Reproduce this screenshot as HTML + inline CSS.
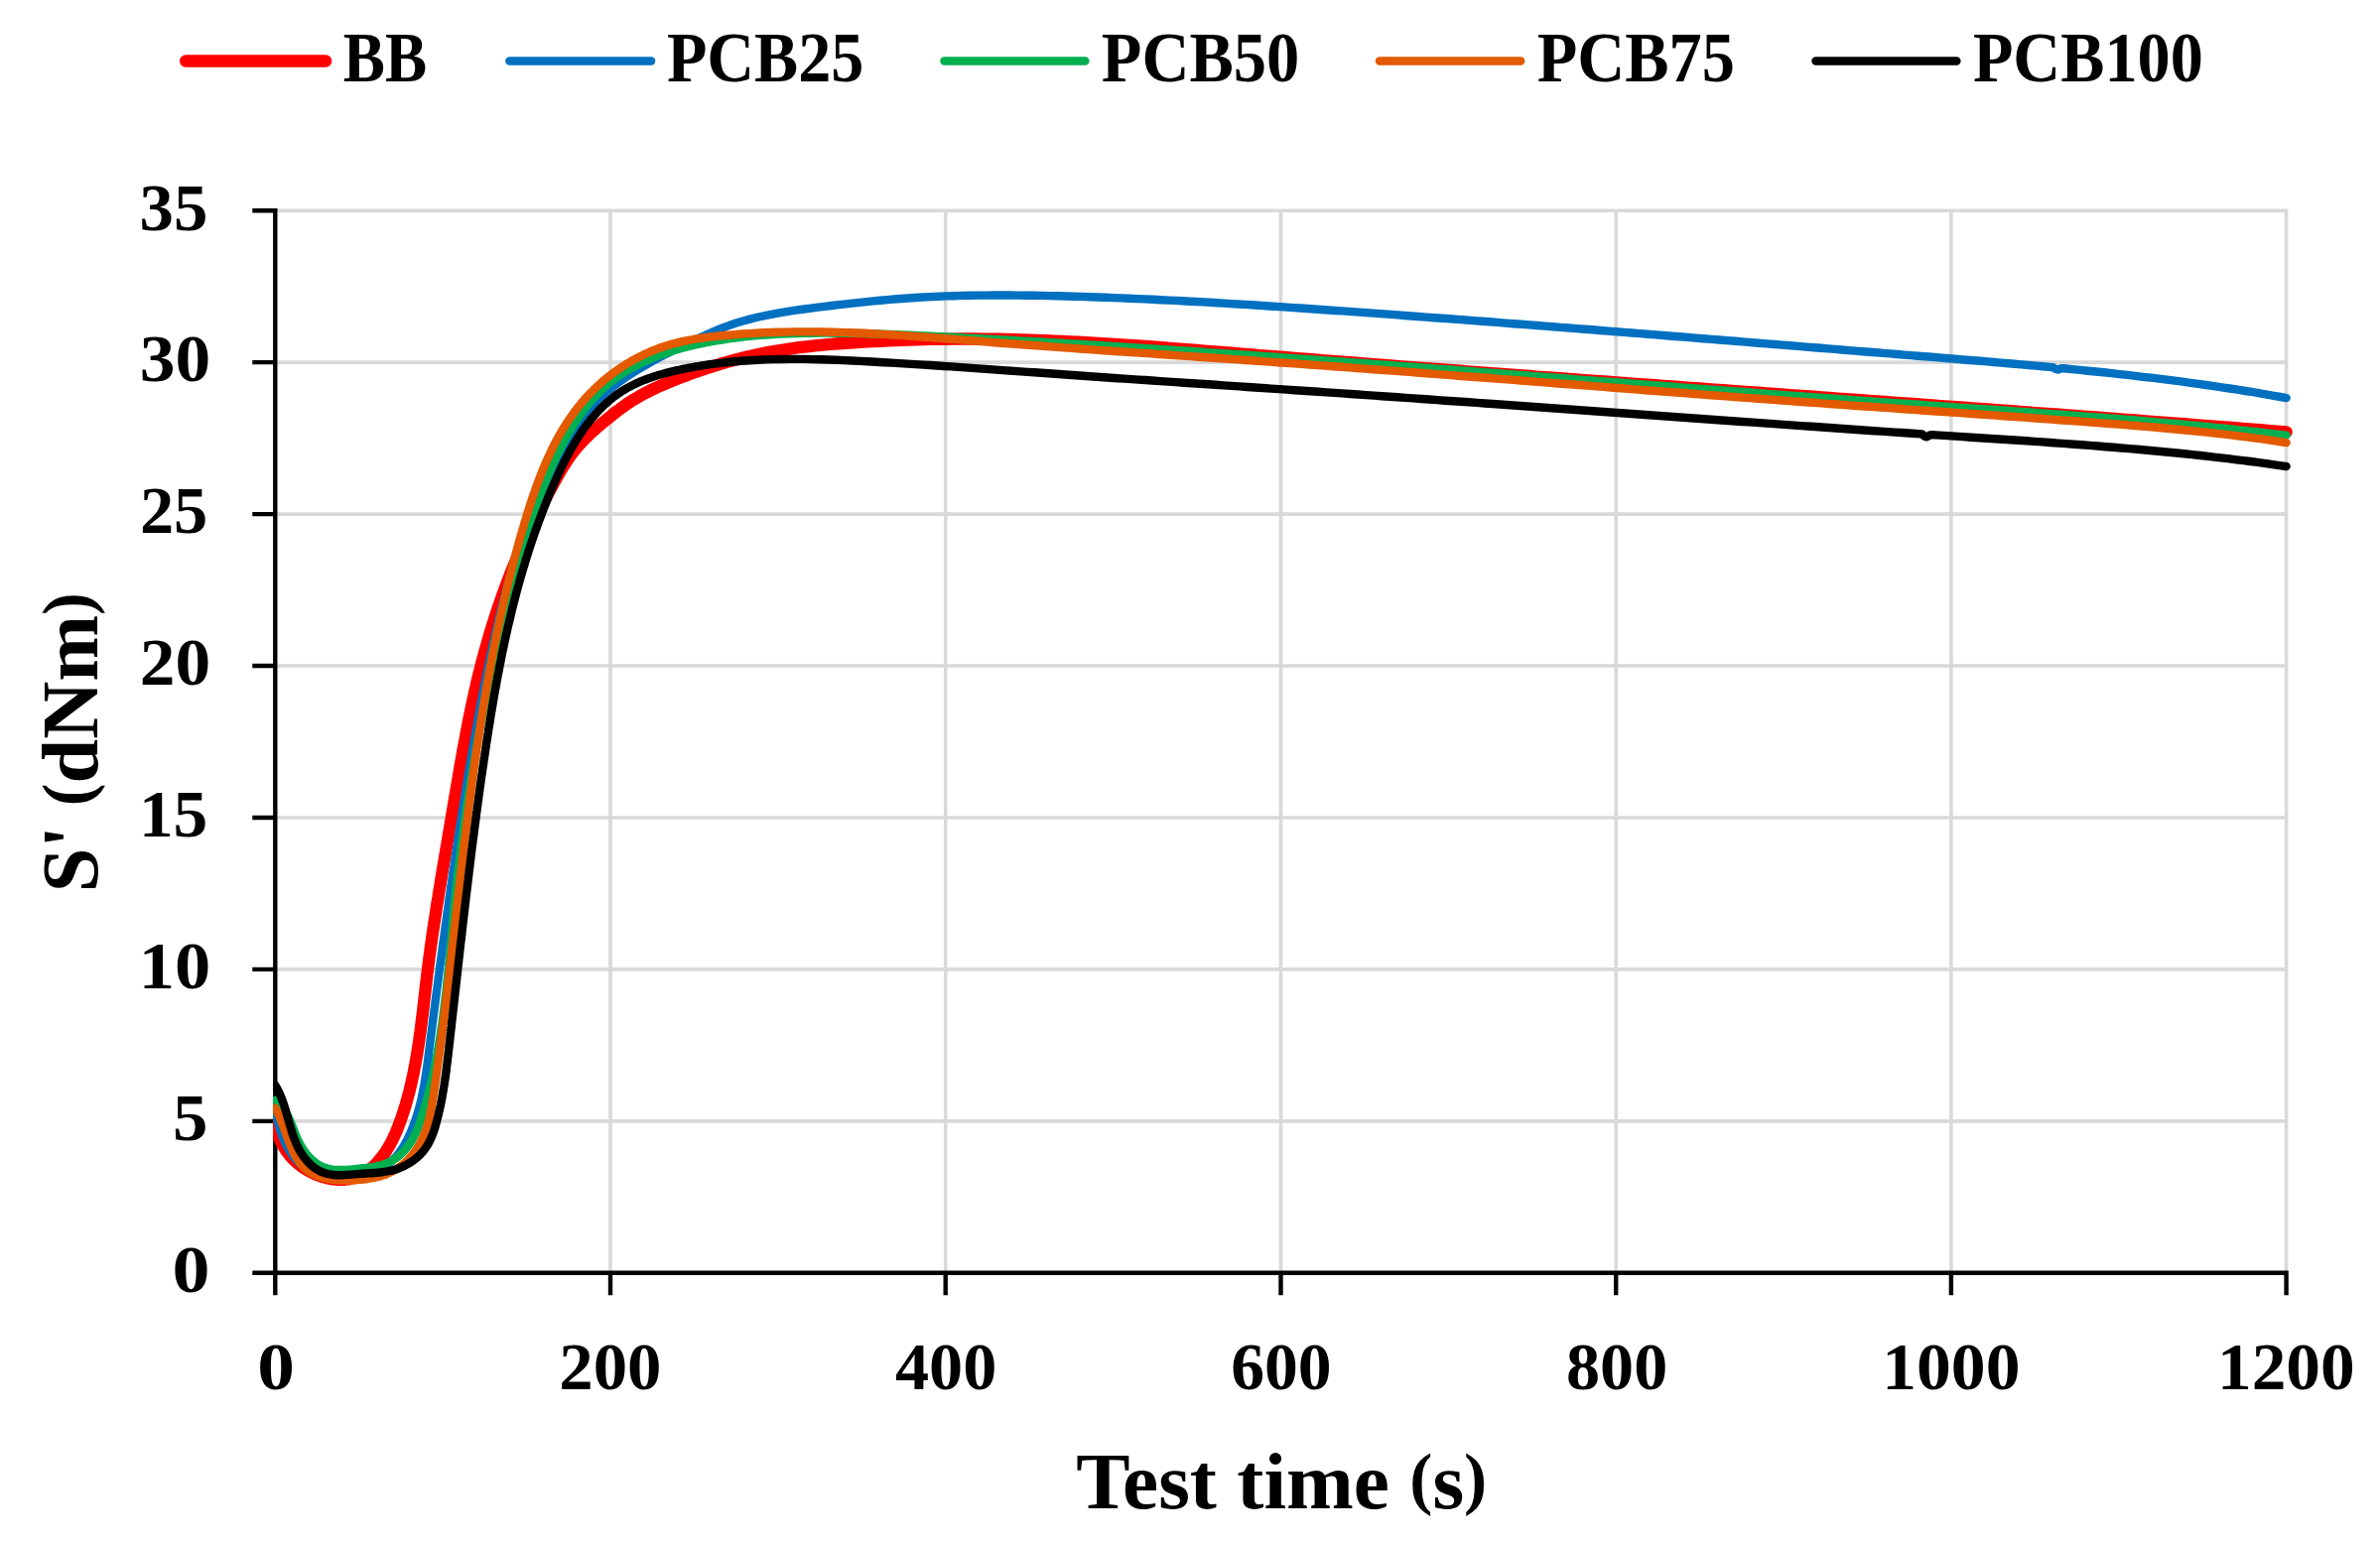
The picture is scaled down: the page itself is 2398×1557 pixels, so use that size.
<!DOCTYPE html>
<html lang="en"><head><meta charset="utf-8"><title>Cure curves</title>
<style>html,body{margin:0;padding:0;background:#fff}svg{display:block}text{font-family:"Liberation Serif","DejaVu Serif",serif;font-weight:bold;fill:#000}</style></head><body>
<svg width="2398" height="1557" viewBox="0 0 2398 1557">
<rect width="2398" height="1557" fill="#fff"/>
<path d="M277.3 1129.9H2305.4M277.3 976.9H2305.4M277.3 824.0H2305.4M277.3 671.0H2305.4M277.3 518.1H2305.4M277.3 365.1H2305.4M277.3 212.2H2305.4M615.0 210.4V1282.8M952.7 210.4V1282.8M1290.5 210.4V1282.8M1628.2 210.4V1282.8M1965.9 210.4V1282.8M2303.6 210.4V1282.8" stroke="#d9d9d9" stroke-width="3.6" fill="none"/>
<path d="M277.3 210.0V1305.3M254.3 1282.8H2305.8M254.3 1129.9H277.3M254.3 976.9H277.3M254.3 824.0H277.3M254.3 671.0H277.3M254.3 518.1H277.3M254.3 365.1H277.3M254.3 212.2H277.3M615.0 1282.8V1305.3M952.7 1282.8V1305.3M1290.5 1282.8V1305.3M1628.2 1282.8V1305.3M1965.9 1282.8V1305.3M2303.6 1282.8V1305.3" stroke="#000" stroke-width="4.4" fill="none"/>
<clipPath id="cp"><rect x="275.1" y="150" width="2100" height="1150"/></clipPath>
<g clip-path="url(#cp)">
<path d="M277.1 1124.4L277.2 1126.4 277.3 1128.5 277.5 1130.5 277.7 1132.5 278.0 1134.5 278.4 1136.5 278.9 1138.5 279.6 1141.4 280.5 1144.2 281.6 1147.0 282.7 1149.7 284.0 1152.4 285.4 1155.0 287.0 1157.5 288.6 1160.0 290.4 1162.4 292.3 1164.7 294.2 1166.9 296.3 1169.0 297.8 1170.4 299.3 1171.7 300.8 1173.0 302.4 1174.3 304.0 1175.5 305.7 1176.7 307.4 1177.8 309.1 1178.9 310.9 1179.9 312.7 1180.9 314.5 1181.8 316.4 1182.7 318.3 1183.5 320.2 1184.3 322.1 1185.0 324.0 1185.7 326.0 1186.3 327.9 1186.8 329.9 1187.3 331.9 1187.7 333.9 1188.1 335.9 1188.4 338.8 1188.7 341.8 1188.8 344.8 1188.8 347.7 1188.7 350.6 1188.3 353.4 1187.8 356.3 1187.2 359.0 1186.3 361.7 1185.3 364.3 1184.0 366.8 1182.6 369.3 1181.1 371.7 1179.3 374.0 1177.5 376.3 1175.5 377.7 1174.1 379.1 1172.7 380.5 1171.2 381.8 1169.6 383.1 1168.1 384.4 1166.5 385.6 1164.8 386.8 1163.2 388.0 1161.5 389.1 1159.8 390.2 1158.0 391.3 1156.3 392.3 1154.5 393.3 1152.8 394.2 1151.0 395.2 1149.2 396.0 1147.4 396.9 1145.5 397.7 1143.7 398.6 1141.9 399.4 1140.0 400.1 1138.2 400.9 1136.3 401.6 1134.4 402.3 1132.5 403.0 1130.7 403.7 1128.8 404.4 1126.9 405.0 1125.0 406.0 1122.1 406.9 1119.3 407.8 1116.4 408.7 1113.6 409.5 1110.7 410.3 1107.8 411.1 1104.9 411.9 1102.1 412.6 1099.2 413.3 1096.3 414.0 1093.4 414.7 1090.5 415.3 1087.5 416.0 1084.6 416.6 1081.7 417.2 1078.8 417.7 1075.8 418.3 1072.9 418.8 1070.0 419.4 1067.0 419.9 1064.1 420.4 1061.1 420.8 1058.1 421.3 1055.2 421.7 1052.2 422.2 1049.3 422.6 1046.3 423.0 1043.3 423.3 1041.3 423.6 1039.4 423.8 1037.4 424.1 1035.4 424.3 1033.4 424.6 1031.4 424.8 1029.4 425.1 1027.4 425.3 1025.4 425.6 1023.5 425.8 1021.5 426.1 1019.5 426.3 1017.5 426.5 1015.5 426.8 1013.5 427.0 1011.5 427.2 1009.5 427.4 1007.5 427.7 1005.5 427.9 1003.5 428.1 1001.6 428.4 999.6 428.6 997.6 428.8 995.6 429.0 993.6 429.3 991.6 429.5 989.6 429.7 987.6 430.0 985.6 430.2 983.6 430.4 981.6 430.7 979.6 430.9 977.7 431.2 975.7 431.4 973.7 431.7 971.7 431.9 969.7 432.2 967.7 432.4 965.7 432.7 963.7 433.0 961.8 433.2 959.8 433.5 957.8 433.8 955.8 434.0 953.8 434.3 951.8 434.6 949.9 434.9 947.9 435.1 945.9 435.4 943.9 435.7 941.9 436.0 940.0 436.4 937.0 436.9 934.0 437.3 931.1 437.8 928.1 438.2 925.1 438.7 922.2 439.1 919.2 439.6 916.2 440.0 913.3 440.5 910.3 441.0 907.4 441.5 904.4 441.9 901.4 442.4 898.5 442.9 895.5 443.4 892.6 443.9 889.6 444.4 886.6 444.8 883.7 445.3 880.7 445.8 877.8 446.3 874.8 446.8 871.9 447.3 868.9 447.8 866.0 448.3 863.0 448.8 860.0 449.3 857.1 449.8 854.1 450.3 851.2 450.8 848.2 451.3 845.3 451.8 842.3 452.3 839.3 452.8 836.4 453.3 833.4 453.8 830.5 454.3 827.5 454.8 824.6 455.3 821.6 455.8 818.6 456.1 816.7 456.5 814.7 456.8 812.7 457.1 810.8 457.5 808.8 457.8 806.8 458.1 804.8 458.5 802.9 458.8 800.9 459.1 798.9 459.5 796.9 459.8 795.0 460.1 793.0 460.5 791.0 460.8 789.1 461.1 787.1 461.5 785.1 461.8 783.1 462.1 781.2 462.5 779.2 462.8 777.2 463.2 775.2 463.5 773.3 463.8 771.3 464.2 769.3 464.5 767.4 464.9 765.4 465.2 763.4 465.6 761.5 465.9 759.5 466.3 757.5 466.6 755.5 467.0 753.6 467.4 751.6 467.7 749.6 468.1 747.7 468.5 745.7 468.8 743.7 469.2 741.8 469.6 739.8 469.9 737.8 470.5 734.9 471.1 732.0 471.6 729.0 472.2 726.1 472.8 723.1 473.4 720.2 474.0 717.3 474.6 714.3 475.2 711.4 475.9 708.4 476.5 705.5 477.1 702.6 477.8 699.7 478.4 696.7 479.1 693.8 479.8 690.9 480.4 688.0 481.1 685.0 481.8 682.1 482.5 679.2 483.3 676.3 484.0 673.4 484.7 670.5 485.5 667.6 486.2 664.7 486.7 662.7 487.3 660.8 487.8 658.9 488.3 657.0 488.8 655.0 489.4 653.1 489.9 651.2 490.5 649.2 491.0 647.3 491.6 645.4 492.1 643.5 492.7 641.6 493.2 639.6 493.8 637.7 494.4 635.8 495.0 633.9 495.6 632.0 496.2 630.1 496.8 628.2 497.4 626.3 498.0 624.3 498.6 622.4 499.2 620.5 499.8 618.6 500.4 616.7 501.1 614.8 501.7 612.9 502.3 611.0 503.0 609.2 503.6 607.3 504.3 605.4 505.0 603.5 505.6 601.6 506.3 599.7 507.0 597.8 507.7 596.0 508.7 593.1 509.7 590.3 510.8 587.5 511.8 584.7 512.9 581.9 514.0 579.1 515.1 576.3 516.2 573.5 517.4 570.8 518.5 568.0 519.6 565.2 520.8 562.4 522.0 559.7 523.1 556.9 524.3 554.2 525.6 551.4 526.8 548.7 528.0 546.0 529.2 543.2 530.5 540.5 531.8 537.8 533.1 535.1 534.3 532.4 535.7 529.7 537.0 527.0 538.3 524.3 539.6 521.6 541.0 518.9 542.4 516.3 543.7 513.6 545.1 510.9 546.0 509.2 547.0 507.4 547.9 505.6 548.8 503.9 549.8 502.1 550.7 500.3 551.6 498.6 552.6 496.8 553.5 495.0 554.5 493.3 555.4 491.5 556.4 489.8 557.4 488.0 558.3 486.2 559.3 484.5 560.3 482.7 561.2 481.0 562.2 479.2 563.7 476.6 565.2 474.0 566.7 471.5 568.3 468.9 569.9 466.4 571.5 463.9 573.2 461.4 574.9 459.0 576.7 456.6 578.5 454.3 580.4 452.0 582.3 449.7 584.3 447.5 586.3 445.3 588.4 443.1 590.5 441.0 592.6 438.9 594.1 437.5 595.5 436.2 597.0 434.8 598.5 433.5 600.0 432.2 601.5 430.8 603.1 429.5 604.6 428.2 606.2 426.9 607.7 425.6 609.3 424.4 610.8 423.1 612.4 421.8 614.0 420.6 615.6 419.3 617.1 418.0 618.7 416.8 620.3 415.5 621.9 414.3 623.5 413.1 625.1 411.9 626.7 410.7 628.4 409.5 630.0 408.3 631.6 407.2 634.1 405.5 636.6 403.9 639.2 402.3 641.8 400.8 644.3 399.3 646.9 397.9 649.6 396.4 652.2 395.1 654.9 393.7 657.6 392.4 660.3 391.1 663.0 389.9 665.7 388.7 668.4 387.5 671.2 386.3 673.9 385.2 676.7 384.0 679.5 382.9 682.3 381.8 685.1 380.7 687.9 379.6 690.7 378.6 692.5 377.9 694.4 377.2 696.3 376.5 698.2 375.8 700.1 375.2 702.0 374.5 703.9 373.9 705.8 373.2 707.7 372.6 709.6 371.9 711.5 371.3 713.4 370.7 715.3 370.1 717.2 369.5 719.1 368.9 725.8 366.8 732.5 364.9 739.3 363.0 746.1 361.3 752.9 359.6 759.7 358.1 766.6 356.6 773.5 355.2 781.3 353.8 789.2 352.5 797.1 351.3 805.0 350.2 812.9 349.3 820.9 348.4 828.8 347.6 836.8 346.9 844.8 346.3 852.7 345.7 859.7 345.2 866.7 344.8 873.7 344.4 880.7 344.0 887.7 343.7 894.7 343.4 901.7 343.1 908.7 342.8 915.7 342.5 922.7 342.3 929.7 342.1 936.7 341.9 943.7 341.8 950.7 341.7 958.7 341.6 966.7 341.5 974.7 341.5 982.7 341.5 990.7 341.6 998.7 341.7 1006.7 341.8 1014.7 342.0 1022.7 342.2 1030.6 342.4 1038.6 342.7 1046.6 342.9 1054.6 343.3 1062.6 343.6 1070.6 344.0 1078.6 344.4 1086.5 344.8 1094.5 345.2 1102.5 345.7 1110.5 346.1 1118.5 346.6 1126.5 347.2 1134.4 347.7 1142.4 348.2 1150.4 348.8 1157.4 349.3 1164.4 349.8 1171.3 350.3 1178.3 350.9 1185.3 351.4 1192.3 351.9 1199.3 352.5 1206.2 353.0 1213.2 353.6 1220.2 354.1 1227.2 354.7 1234.2 355.3 1241.2 355.8 1248.1 356.4 1255.1 357.0 1262.1 357.5 1269.1 358.1 1276.1 358.7 1283.0 359.2 1290.0 359.8 1297.0 360.3 1304.0 360.9 1311.0 361.4 1317.9 362.0 1324.9 362.5 1331.9 363.1 1338.9 363.6 1345.9 364.2 1352.8 364.7 1359.8 365.3 1366.8 365.8 1373.8 366.4 1380.8 366.9 1387.7 367.4 1394.7 368.0 1401.7 368.5 1408.7 369.1 1415.7 369.6 1422.6 370.1 1429.6 370.7 1436.6 371.2 1443.6 371.7 1450.6 372.2 1457.5 372.8 1464.5 373.3 1471.5 373.8 1478.5 374.4 1485.5 374.9 1492.4 375.4 1499.4 375.9 1506.4 376.4 1513.4 377.0 1520.4 377.5 1527.4 378.0 1534.3 378.5 1541.3 379.0 1548.3 379.6 1556.3 380.1 1564.3 380.7 1572.2 381.3 1580.2 381.9 1588.2 382.5 1596.2 383.1 1604.1 383.7 1612.1 384.2 1620.1 384.8 1628.1 385.4 1636.1 386.0 1644.0 386.6 1652.0 387.2 1660.0 387.7 1668.0 388.3 1675.9 388.9 1683.9 389.5 1691.9 390.0 1699.9 390.6 1707.9 391.2 1715.8 391.8 1723.8 392.4 1731.8 392.9 1739.8 393.5 1747.8 394.1 1755.7 394.7 1763.7 395.2 1771.7 395.8 1779.7 396.4 1787.6 397.0 1795.6 397.5 1803.6 398.1 1811.6 398.7 1819.6 399.3 1827.5 399.8 1835.5 400.4 1843.5 401.0 1851.5 401.6 1859.5 402.1 1867.4 402.7 1875.4 403.3 1883.4 403.9 1891.4 404.4 1899.3 405.0 1907.3 405.6 1915.3 406.2 1923.3 406.7 1931.3 407.3 1939.2 407.9 1947.2 408.5 1955.2 409.1 1963.2 409.6 1971.1 410.2 1979.1 410.8 1987.1 411.4 1995.1 412.0 2003.1 412.5 2011.0 413.1 2019.0 413.7 2027.0 414.3 2034.9 414.9 2042.9 415.5 2050.9 416.1 2058.9 416.7 2066.8 417.2 2074.8 417.8 2082.8 418.4 2090.7 419.0 2098.7 419.6 2106.7 420.2 2114.7 420.8 2122.6 421.4 2130.6 422.0 2138.6 422.6 2146.5 423.2 2154.5 423.8 2161.5 424.4 2168.5 424.9 2175.4 425.4 2182.4 425.9 2189.4 426.5 2196.4 427.0 2203.3 427.5 2210.3 428.1 2217.3 428.6 2224.3 429.2 2231.2 429.7 2238.2 430.2 2245.2 430.8 2252.2 431.3 2259.1 431.9 2266.1 432.4 2273.1 433.0 2280.0 433.5 2287.0 434.1 2294.0 434.6 2301.0 435.2 2303.6 435.4" stroke="#ff0000" stroke-width="12.4" fill="none" stroke-linecap="round" stroke-linejoin="round"/>
<path d="M277.1 1116.6L277.6 1119.4 278.1 1122.3 278.7 1125.2 279.3 1128.1 279.8 1130.0 280.3 1132.0 280.8 1134.0 281.4 1135.9 282.0 1137.9 282.6 1139.8 283.3 1141.8 284.0 1143.7 284.7 1145.7 285.5 1147.6 286.3 1149.5 287.2 1151.3 288.1 1153.2 289.0 1155.0 289.9 1156.8 290.9 1158.6 292.0 1160.3 293.1 1162.0 294.8 1164.5 296.6 1166.8 298.5 1169.1 300.5 1171.2 302.6 1173.3 304.8 1175.1 307.1 1176.9 309.5 1178.5 312.0 1179.9 314.6 1181.2 317.3 1182.4 320.0 1183.4 322.8 1184.3 325.7 1185.1 328.6 1185.8 330.6 1186.1 332.6 1186.4 334.6 1186.7 336.7 1186.9 338.7 1187.0 340.8 1187.1 342.8 1187.1 344.9 1187.1 346.9 1187.1 349.0 1187.0 351.1 1186.8 353.1 1186.6 355.2 1186.4 357.2 1186.1 359.3 1185.8 361.3 1185.4 363.3 1185.0 365.3 1184.5 367.3 1184.0 369.3 1183.4 371.2 1182.8 373.1 1182.2 375.0 1181.5 376.9 1180.8 379.6 1179.6 382.3 1178.3 384.9 1176.9 387.4 1175.4 389.9 1173.8 392.2 1172.0 394.4 1170.2 396.6 1168.2 398.6 1166.1 400.5 1163.9 402.3 1161.6 404.0 1159.2 405.7 1156.7 407.2 1154.2 408.7 1151.6 409.6 1149.8 410.6 1148.0 411.4 1146.2 412.3 1144.4 413.5 1141.7 414.7 1138.9 415.8 1136.1 416.9 1133.4 417.9 1130.6 418.9 1127.7 419.8 1124.9 420.7 1122.1 421.5 1119.2 422.3 1116.3 423.1 1113.4 423.8 1110.6 424.5 1107.6 425.1 1104.7 425.7 1101.8 426.3 1098.9 426.9 1095.9 427.4 1093.0 427.8 1091.0 428.1 1089.0 428.4 1087.0 428.7 1085.1 429.0 1083.1 429.3 1081.1 429.6 1079.1 429.9 1077.1 430.2 1075.1 430.5 1073.1 430.7 1071.1 431.0 1069.2 431.3 1067.2 431.5 1065.2 431.8 1063.2 432.0 1061.2 432.3 1059.2 432.5 1057.2 432.8 1055.2 433.0 1053.2 433.3 1051.2 433.5 1049.2 433.8 1047.2 434.0 1045.2 434.3 1043.2 434.6 1041.2 434.8 1039.2 435.1 1037.2 435.3 1035.2 435.6 1033.2 435.8 1031.2 436.1 1029.2 436.3 1027.2 436.6 1025.3 436.8 1023.3 437.1 1021.3 437.3 1019.3 437.6 1017.3 437.9 1015.3 438.1 1013.3 438.4 1011.3 438.6 1009.3 438.9 1007.3 439.1 1005.3 439.4 1003.4 439.7 1001.4 439.9 999.4 440.2 997.4 440.4 995.4 440.7 993.4 441.0 991.4 441.2 989.4 441.5 987.5 441.7 985.5 442.0 983.5 442.3 981.5 442.5 979.5 442.8 977.5 443.0 975.5 443.3 973.5 443.6 971.6 443.8 969.6 444.1 967.6 444.4 965.6 444.6 963.6 444.9 961.6 445.2 959.7 445.4 957.7 445.7 955.7 446.0 953.7 446.2 951.7 446.5 949.7 446.8 947.8 447.1 945.8 447.5 942.8 447.9 939.8 448.3 936.9 448.7 933.9 449.1 930.9 449.5 928.0 449.9 925.0 450.3 922.0 450.7 919.1 451.2 916.1 451.6 913.1 452.0 910.2 452.4 907.2 452.8 904.2 453.3 901.3 453.7 898.3 454.1 895.3 454.5 892.4 455.0 889.4 455.4 886.4 455.8 883.5 456.3 880.5 456.7 877.5 457.1 874.6 457.6 871.6 458.0 868.7 458.4 865.7 458.9 862.7 459.3 859.8 459.8 856.8 460.2 853.9 460.7 850.9 461.1 847.9 461.6 845.0 462.0 842.0 462.5 839.1 462.9 836.1 463.4 833.1 463.9 830.2 464.3 827.2 464.8 824.3 465.3 821.3 465.7 818.4 466.2 815.4 466.7 812.4 467.1 809.5 467.6 806.5 468.1 803.6 468.6 800.6 469.0 797.7 469.5 794.7 470.0 791.8 470.5 788.8 471.0 785.8 471.5 782.9 472.0 779.9 472.5 777.0 473.0 774.0 473.5 771.1 474.0 768.1 474.5 765.2 475.0 762.2 475.5 759.3 476.0 756.3 476.5 753.3 477.0 750.4 477.5 747.4 478.0 744.5 478.6 741.5 479.1 738.6 479.6 735.6 480.1 732.7 480.7 729.7 481.2 726.8 481.6 724.8 481.9 722.8 482.3 720.9 482.6 718.9 483.0 716.9 483.4 715.0 483.7 713.0 484.1 711.0 484.5 709.1 484.9 707.1 485.2 705.1 485.6 703.2 486.0 701.2 486.4 699.2 486.7 697.3 487.1 695.3 487.5 693.3 487.9 691.4 488.3 689.4 488.7 687.5 489.1 685.5 489.5 683.5 489.9 681.6 490.3 679.6 490.7 677.6 491.1 675.7 491.5 673.7 491.9 671.8 492.3 669.8 492.7 667.8 493.1 665.9 493.5 663.9 493.9 662.0 494.4 660.0 494.8 658.1 495.2 656.1 495.6 654.1 496.1 652.2 496.5 650.2 496.9 648.3 497.4 646.3 497.8 644.4 498.3 642.4 498.7 640.5 499.2 638.5 499.6 636.6 500.1 634.6 500.5 632.6 501.0 630.7 501.4 628.7 501.9 626.8 502.4 624.8 502.8 622.9 503.3 621.0 503.8 619.0 504.3 617.1 504.8 615.1 505.2 613.2 505.7 611.2 506.2 609.3 506.7 607.3 507.2 605.4 507.7 603.5 508.2 601.5 508.7 599.6 509.2 597.6 509.8 595.7 510.3 593.8 510.8 591.8 511.3 589.9 511.9 588.0 512.4 586.0 513.0 584.1 513.5 582.2 514.1 580.2 514.6 578.3 515.2 576.4 515.8 574.5 516.4 572.6 517.0 570.7 517.6 568.7 518.2 566.8 519.1 564.0 520.0 561.1 521.0 558.3 522.0 555.5 523.0 552.7 524.0 549.8 525.0 547.0 526.1 544.2 527.2 541.5 528.3 538.7 529.5 535.9 530.6 533.2 531.8 530.4 533.1 527.7 534.3 525.0 535.6 522.3 536.9 519.6 538.2 516.9 539.5 514.2 540.8 511.6 542.2 508.9 543.5 506.2 544.8 503.5 546.2 500.8 547.5 498.1 548.8 495.4 550.1 492.7 551.4 490.0 552.6 487.3 553.5 485.5 554.3 483.6 555.1 481.8 555.9 480.0 556.7 478.2 557.5 476.3 558.3 474.5 559.1 472.6 559.9 470.8 560.7 469.0 561.5 467.1 562.3 465.3 563.1 463.5 563.9 461.6 564.8 459.8 565.6 458.0 566.4 456.2 567.3 454.4 568.1 452.6 569.0 450.8 569.9 449.0 570.8 447.2 571.7 445.4 573.1 442.7 574.5 440.1 576.0 437.5 577.5 434.9 579.0 432.3 580.6 429.8 582.2 427.3 583.9 424.8 585.6 422.3 587.4 419.9 589.2 417.6 590.5 416.0 591.8 414.5 593.0 412.9 594.4 411.4 595.7 409.9 597.1 408.4 598.5 407.0 599.9 405.5 601.3 404.1 602.7 402.7 604.2 401.3 605.7 399.9 607.2 398.6 608.7 397.2 610.2 395.9 611.7 394.6 613.3 393.3 614.8 392.0 616.4 390.8 617.9 389.5 619.5 388.3 621.1 387.1 623.5 385.3 626.0 383.6 628.4 381.8 630.9 380.1 633.3 378.5 635.8 376.8 638.4 375.2 640.9 373.6 643.4 372.1 646.0 370.5 648.6 369.0 651.2 367.5 653.8 366.0 656.4 364.6 659.0 363.1 661.6 361.7 664.3 360.3 666.9 358.9 668.7 358.0 670.5 357.1 672.3 356.2 674.1 355.3 675.9 354.4 677.7 353.5 679.5 352.6 681.3 351.8 683.1 350.9 684.9 350.0 686.7 349.1 688.5 348.3 690.3 347.4 692.1 346.5 694.0 345.7 695.8 344.8 697.6 343.9 699.4 343.1 701.2 342.2 703.1 341.4 704.9 340.5 706.7 339.7 708.5 338.8 710.4 338.0 712.2 337.1 714.0 336.3 715.9 335.5 717.7 334.7 719.6 333.9 726.1 331.2 733.5 328.4 741.1 325.8 748.7 323.5 756.4 321.4 764.1 319.5 771.9 317.8 779.7 316.3 787.6 314.9 795.4 313.6 803.4 312.4 810.3 311.5 817.2 310.6 824.2 309.7 831.2 308.8 838.1 308.0 845.1 307.2 852.1 306.4 859.0 305.6 866.0 304.8 873.0 304.1 880.0 303.4 886.9 302.7 893.9 302.1 900.9 301.5 907.9 301.0 914.9 300.5 921.8 300.0 929.8 299.5 937.8 299.1 945.8 298.7 953.8 298.4 961.8 298.2 969.8 297.9 977.8 297.8 985.8 297.6 993.8 297.6 1001.7 297.5 1009.7 297.5 1017.7 297.5 1025.7 297.6 1033.7 297.7 1041.7 297.8 1049.7 297.9 1057.7 298.1 1065.7 298.3 1073.7 298.5 1081.7 298.7 1089.7 298.9 1097.7 299.2 1105.7 299.5 1113.7 299.8 1121.7 300.1 1129.7 300.4 1137.6 300.7 1145.6 301.1 1153.6 301.4 1161.6 301.8 1169.6 302.2 1177.6 302.6 1184.6 302.9 1191.6 303.3 1198.6 303.7 1205.6 304.0 1212.6 304.4 1219.5 304.8 1226.5 305.2 1233.5 305.6 1240.5 306.1 1247.5 306.5 1254.5 306.9 1261.5 307.3 1268.5 307.8 1275.4 308.2 1282.4 308.7 1289.4 309.1 1296.4 309.6 1303.4 310.1 1310.4 310.5 1317.4 311.0 1324.4 311.5 1331.3 312.0 1338.3 312.5 1345.3 313.0 1352.3 313.4 1359.3 313.9 1366.3 314.4 1373.2 314.9 1380.2 315.4 1387.2 315.9 1394.2 316.4 1401.2 316.9 1408.2 317.4 1415.1 318.0 1422.1 318.5 1429.1 319.0 1437.1 319.6 1445.1 320.2 1453.0 320.7 1461.0 321.3 1469.0 321.9 1477.0 322.5 1484.9 323.1 1492.9 323.7 1500.9 324.3 1508.9 324.9 1516.8 325.6 1524.8 326.2 1532.8 326.8 1540.8 327.4 1548.7 328.0 1556.7 328.6 1564.7 329.2 1572.7 329.9 1580.6 330.5 1588.6 331.1 1596.6 331.7 1604.6 332.3 1612.5 333.0 1620.5 333.6 1628.5 334.2 1636.5 334.9 1644.4 335.5 1652.4 336.1 1660.4 336.8 1668.4 337.4 1676.3 338.0 1684.3 338.7 1692.3 339.3 1700.2 339.9 1708.2 340.6 1716.2 341.2 1724.2 341.9 1732.1 342.5 1740.1 343.1 1748.1 343.8 1756.1 344.4 1764.0 345.1 1772.0 345.7 1780.0 346.4 1788.0 347.0 1795.9 347.6 1803.9 348.3 1811.9 348.9 1819.8 349.6 1827.8 350.2 1834.8 350.8 1841.8 351.4 1848.8 351.9 1855.7 352.5 1862.7 353.1 1869.7 353.6 1876.7 354.2 1883.6 354.8 1890.6 355.3 1897.6 355.9 1904.6 356.4 1911.6 357.0 1918.5 357.6 1925.5 358.1 1932.5 358.7 1939.5 359.3 1946.5 359.8 1953.4 360.4 1960.4 361.0 1967.4 361.5 1974.4 362.1 1981.3 362.7 1988.3 363.2 1995.3 363.8 2002.3 364.4 2009.3 365.0 2016.2 365.6 2023.2 366.2 2030.2 366.8 2037.1 367.4 2044.1 368.0 2051.1 368.6 2058.0 369.3 2065.0 369.9 2068.5 370.2 2071.0 371.9 2073.5 372.5 2076.0 371.5 2078.5 371.2 2079.9 371.3 2087.9 372.1 2095.8 372.9 2103.8 373.7 2111.7 374.5 2119.7 375.3 2127.6 376.2 2135.6 377.1 2143.5 377.9 2151.5 378.8 2159.4 379.8 2167.3 380.7 2175.3 381.7 2183.2 382.7 2191.1 383.7 2199.0 384.7 2207.0 385.8 2214.9 386.9 2222.8 388.0 2230.7 389.1 2238.6 390.3 2246.5 391.5 2254.4 392.7 2262.3 394.0 2270.2 395.2 2277.1 396.4 2284.0 397.6 2290.9 398.8 2297.8 400.0 2303.6 401.1" stroke="#0070c0" stroke-width="8.4" fill="none" stroke-linecap="round" stroke-linejoin="round"/>
<path d="M277.1 1108.8L278.8 1110.1 280.4 1111.4 281.9 1112.8 283.3 1114.2 285.2 1116.5 286.9 1118.9 288.4 1121.4 289.8 1124.0 291.1 1126.7 292.3 1129.4 293.1 1131.3 293.8 1133.2 294.6 1135.0 295.3 1136.9 296.0 1138.8 296.7 1140.7 297.5 1142.6 298.2 1144.5 299.0 1146.4 299.9 1148.3 300.8 1150.1 301.7 1151.9 302.7 1153.7 303.7 1155.5 304.8 1157.2 305.9 1158.9 307.0 1160.5 308.8 1162.9 310.8 1165.2 312.8 1167.3 314.9 1169.3 317.1 1171.1 319.4 1172.8 321.9 1174.3 324.4 1175.6 327.1 1176.6 329.8 1177.5 332.6 1178.1 335.5 1178.6 338.5 1178.9 340.6 1179.0 342.6 1179.0 344.7 1179.0 346.8 1179.0 348.9 1178.9 351.0 1178.8 353.1 1178.6 355.2 1178.4 357.3 1178.2 359.4 1178.0 361.5 1177.8 363.5 1177.5 365.6 1177.3 367.6 1177.1 369.6 1176.9 371.6 1176.6 373.6 1176.3 376.6 1175.9 379.4 1175.3 382.3 1174.7 385.1 1173.9 387.8 1173.0 390.4 1172.0 393.0 1170.8 395.5 1169.4 398.0 1167.8 400.4 1166.1 402.7 1164.1 404.1 1162.8 405.6 1161.3 407.0 1159.9 408.4 1158.3 409.7 1156.8 411.0 1155.1 412.2 1153.5 413.4 1151.8 414.5 1150.1 415.6 1148.3 416.6 1146.5 417.5 1144.7 418.4 1142.9 419.3 1141.1 420.1 1139.2 420.8 1137.4 421.5 1135.5 422.2 1133.6 422.9 1131.7 423.8 1128.9 424.7 1126.0 425.6 1123.2 426.5 1120.3 427.4 1117.5 428.2 1114.6 429.1 1111.7 429.9 1108.8 430.7 1106.0 431.4 1103.1 432.2 1100.2 432.9 1097.3 433.6 1094.4 434.3 1091.5 435.0 1088.6 435.7 1085.7 436.3 1082.8 437.0 1079.9 437.6 1077.0 438.2 1074.0 438.8 1071.1 439.3 1068.2 439.9 1065.3 440.5 1062.3 441.0 1059.4 441.5 1056.5 442.0 1053.5 442.5 1050.6 443.0 1047.6 443.5 1044.7 443.9 1041.7 444.4 1038.8 444.8 1035.8 445.2 1032.9 445.7 1029.9 446.1 1026.9 446.5 1024.0 446.8 1021.0 447.2 1018.0 447.6 1015.1 448.0 1012.1 448.3 1009.1 448.7 1006.1 449.0 1003.2 449.4 1000.2 449.7 997.2 450.0 994.2 450.2 992.2 450.4 990.2 450.6 988.3 450.9 986.3 451.1 984.3 451.3 982.3 451.5 980.3 451.7 978.3 451.9 976.3 452.1 974.3 452.2 972.3 452.4 970.3 452.6 968.3 452.8 966.3 453.0 964.3 453.2 962.3 453.4 960.3 453.6 958.3 453.8 956.3 453.9 954.3 454.1 952.4 454.3 950.4 454.5 948.4 454.7 946.4 454.9 944.4 455.1 942.4 455.2 940.4 455.4 938.4 455.6 936.4 455.8 934.4 456.0 932.4 456.2 930.4 456.4 928.4 456.5 926.4 456.7 924.4 456.9 922.4 457.1 920.4 457.3 918.4 457.5 916.4 457.7 914.4 457.9 912.4 458.1 910.4 458.3 908.4 458.5 906.4 458.7 904.4 458.9 902.4 459.1 900.4 459.3 898.4 459.6 896.4 459.8 894.4 460.0 892.4 460.2 890.4 460.4 888.4 460.7 886.5 460.9 884.5 461.1 882.5 461.3 880.5 461.6 878.5 461.8 876.5 462.0 874.5 462.3 872.5 462.5 870.5 462.8 868.5 463.0 866.5 463.2 864.5 463.5 862.6 463.7 860.6 464.0 858.6 464.2 856.6 464.5 854.6 464.8 852.6 465.0 850.6 465.3 848.6 465.5 846.6 465.8 844.7 466.1 842.7 466.3 840.7 466.6 838.7 466.9 836.7 467.2 834.7 467.4 832.7 467.7 830.8 468.0 828.8 468.3 826.8 468.5 824.8 468.8 822.8 469.1 820.8 469.4 818.9 469.7 816.9 470.0 814.9 470.3 812.9 470.6 810.9 470.9 808.9 471.2 807.0 471.5 805.0 471.8 803.0 472.1 801.0 472.4 799.0 472.7 797.1 473.0 795.1 473.3 793.1 473.6 791.1 474.0 789.2 474.3 787.2 474.6 785.2 474.9 783.2 475.2 781.3 475.6 779.3 475.9 777.3 476.2 775.3 476.6 773.4 476.9 771.4 477.2 769.4 477.6 767.4 477.9 765.5 478.2 763.5 478.6 761.5 478.9 759.6 479.4 756.6 479.9 753.6 480.5 750.7 481.0 747.7 481.5 744.8 482.1 741.8 482.6 738.9 483.1 735.9 483.7 733.0 484.2 730.0 484.8 727.1 485.3 724.2 485.9 721.2 486.5 718.3 487.0 715.3 487.6 712.4 488.2 709.5 488.8 706.5 489.3 703.6 489.9 700.6 490.5 697.7 491.1 694.8 491.7 691.8 492.3 688.9 492.9 686.0 493.5 683.1 494.1 680.1 494.7 677.2 495.3 674.3 496.0 671.4 496.6 668.4 497.2 665.5 497.8 662.6 498.5 659.7 499.1 656.7 499.7 653.8 500.4 650.9 501.0 648.0 501.7 645.1 502.3 642.2 503.0 639.3 503.7 636.4 504.3 633.4 505.0 630.5 505.7 627.6 506.4 624.7 507.1 621.8 507.8 618.9 508.5 616.0 509.2 613.1 509.9 610.2 510.6 607.3 511.4 604.4 512.1 601.5 512.9 598.6 513.6 595.8 514.4 592.9 515.1 590.0 515.9 587.1 516.7 584.2 517.5 581.3 518.3 578.4 519.1 575.6 519.9 572.7 520.7 569.8 521.5 566.9 522.4 564.1 523.2 561.2 524.1 558.3 524.9 555.4 525.8 552.6 526.7 549.7 527.3 547.8 527.9 545.9 528.5 544.0 529.1 542.1 529.7 540.2 530.3 538.3 531.0 536.4 531.6 534.4 532.2 532.5 532.9 530.6 533.5 528.7 534.1 526.8 534.8 524.9 535.4 523.0 536.1 521.1 536.8 519.2 537.4 517.3 538.1 515.4 538.8 513.5 539.5 511.6 540.2 509.7 540.9 507.9 541.6 506.0 542.3 504.1 543.0 502.2 543.7 500.3 544.4 498.4 545.1 496.5 545.9 494.6 546.6 492.7 547.4 490.8 548.1 489.0 548.9 487.1 549.6 485.2 550.4 483.3 551.2 481.4 551.9 479.5 552.7 477.7 553.5 475.8 554.3 473.9 555.1 472.0 555.9 470.2 556.8 468.3 557.6 466.5 558.4 464.6 559.3 462.8 560.1 460.9 561.0 459.1 561.9 457.3 562.8 455.4 563.7 453.6 564.6 451.8 565.5 450.0 566.4 448.2 567.3 446.4 568.3 444.7 569.2 442.9 570.2 441.1 571.2 439.4 572.2 437.6 573.2 435.9 574.7 433.3 576.2 430.7 577.8 428.2 579.4 425.7 581.0 423.2 582.7 420.8 584.4 418.3 586.1 415.9 587.9 413.6 589.7 411.2 591.5 408.9 593.4 406.7 595.2 404.4 597.2 402.2 599.1 400.1 601.1 397.9 603.2 395.9 605.2 393.8 607.4 391.8 609.5 389.9 611.7 387.9 613.9 386.1 616.2 384.2 618.5 382.5 620.9 380.7 623.3 379.0 625.7 377.4 628.2 375.8 630.7 374.2 633.2 372.7 635.8 371.2 638.4 369.8 641.1 368.4 643.7 367.0 645.5 366.2 647.3 365.3 649.2 364.4 651.0 363.6 652.8 362.8 654.7 362.0 656.6 361.2 658.4 360.4 660.3 359.7 662.2 359.0 664.1 358.2 666.0 357.5 668.0 356.9 669.9 356.2 671.8 355.5 673.8 354.9 675.7 354.2 677.7 353.6 679.6 353.0 681.6 352.4 683.6 351.9 685.6 351.3 687.6 350.8 689.6 350.2 691.6 349.7 693.6 349.2 695.6 348.7 697.6 348.2 699.6 347.7 701.6 347.3 703.6 346.8 705.6 346.4 707.7 346.0 709.7 345.6 711.7 345.2 713.7 344.8 715.8 344.4 717.8 344.0 719.8 343.7 726.9 342.5 733.9 341.4 741.0 340.5 748.0 339.6 754.9 338.9 762.9 338.1 770.8 337.5 778.7 337.0 786.6 336.6 794.5 336.2 802.4 336.0 810.3 335.8 818.2 335.7 826.1 335.6 834.1 335.6 842.0 335.7 850.0 335.8 857.9 335.9 865.9 336.0 873.9 336.2 881.9 336.5 889.9 336.7 896.9 337.0 903.9 337.2 910.9 337.5 917.9 337.8 924.9 338.1 931.9 338.5 938.9 338.8 945.9 339.1 952.9 339.5 960.0 339.8 967.0 340.2 974.0 340.6 981.0 340.9 988.0 341.3 995.0 341.7 1002.0 342.0 1009.0 342.4 1016.0 342.8 1023.0 343.2 1030.0 343.6 1037.0 343.9 1044.0 344.3 1051.0 344.7 1058.0 345.1 1065.0 345.5 1072.0 346.0 1079.0 346.4 1086.0 346.8 1093.0 347.2 1099.9 347.6 1106.9 348.0 1113.9 348.5 1120.9 348.9 1128.9 349.4 1136.9 349.9 1144.9 350.4 1152.8 350.9 1160.8 351.4 1168.8 351.9 1176.8 352.4 1184.8 353.0 1192.7 353.5 1200.7 354.0 1208.7 354.5 1216.7 355.1 1224.6 355.6 1232.6 356.1 1240.6 356.7 1248.6 357.2 1256.5 357.8 1264.5 358.3 1272.5 358.9 1280.5 359.4 1288.4 360.0 1296.4 360.6 1304.4 361.1 1312.4 361.7 1320.3 362.2 1328.3 362.8 1336.3 363.4 1344.3 364.0 1352.2 364.5 1360.2 365.1 1368.2 365.7 1376.1 366.3 1384.1 366.9 1392.1 367.5 1400.1 368.0 1408.0 368.6 1416.0 369.2 1424.0 369.8 1432.0 370.4 1440.0 371.0 1447.9 371.6 1455.9 372.2 1463.9 372.8 1471.9 373.4 1479.8 374.0 1487.8 374.6 1494.8 375.1 1501.8 375.7 1508.8 376.2 1515.7 376.7 1522.7 377.3 1529.7 377.8 1536.7 378.3 1543.7 378.9 1550.6 379.4 1557.6 379.9 1564.6 380.5 1571.6 381.0 1578.6 381.5 1585.5 382.1 1592.5 382.6 1599.5 383.1 1606.5 383.7 1613.5 384.2 1620.5 384.7 1627.4 385.3 1634.4 385.8 1641.4 386.3 1648.4 386.9 1655.4 387.4 1662.3 387.9 1669.3 388.5 1676.3 389.0 1683.3 389.5 1690.3 390.1 1697.3 390.6 1704.2 391.1 1711.2 391.6 1718.2 392.2 1725.2 392.7 1732.2 393.2 1739.1 393.7 1746.1 394.3 1753.1 394.8 1760.1 395.3 1767.1 395.8 1774.1 396.4 1781.0 396.9 1788.0 397.4 1795.0 397.9 1802.0 398.4 1809.0 398.9 1816.0 399.4 1822.9 400.0 1829.9 400.5 1836.9 401.0 1843.9 401.5 1850.9 402.0 1857.9 402.5 1864.8 403.0 1871.8 403.5 1878.8 404.0 1885.8 404.5 1893.8 405.1 1901.7 405.6 1909.7 406.2 1917.7 406.7 1925.7 407.3 1933.7 407.8 1941.6 408.4 1949.6 408.9 1957.6 409.5 1965.6 410.0 1973.6 410.6 1981.5 411.1 1989.5 411.7 1997.5 412.2 2005.5 412.7 2013.4 413.3 2021.4 413.8 2029.4 414.4 2037.4 415.0 2045.3 415.5 2053.3 416.1 2061.3 416.6 2069.2 417.2 2077.2 417.8 2085.2 418.4 2093.1 419.0 2101.1 419.6 2109.1 420.2 2117.0 420.8 2125.0 421.4 2133.0 422.0 2140.9 422.7 2148.9 423.3 2156.9 424.0 2164.8 424.7 2172.8 425.4 2180.8 426.1 2188.7 426.8 2196.7 427.5 2204.6 428.2 2212.6 429.0 2220.5 429.7 2227.5 430.4 2234.5 431.1 2241.4 431.8 2248.4 432.5 2255.3 433.3 2262.3 434.0 2269.3 434.8 2276.2 435.5 2283.2 436.3 2290.1 437.1 2297.1 437.9 2303.6 438.7" stroke="#00b050" stroke-width="8.4" fill="none" stroke-linecap="round" stroke-linejoin="round"/>
<path d="M277.1 1116.6L278.5 1119.0 279.8 1121.4 281.0 1124.0 282.1 1126.7 283.3 1129.5 284.0 1131.4 284.7 1133.3 285.5 1135.3 286.2 1137.2 286.9 1139.2 287.6 1141.2 288.3 1143.2 289.1 1145.2 289.8 1147.2 290.5 1149.2 291.3 1151.2 292.1 1153.2 292.9 1155.1 293.7 1157.0 294.6 1158.9 295.4 1160.8 296.4 1162.6 297.3 1164.4 298.3 1166.2 299.8 1168.7 301.5 1171.1 303.3 1173.4 305.1 1175.5 307.1 1177.5 309.3 1179.3 311.5 1180.9 313.9 1182.3 316.4 1183.6 319.0 1184.8 321.6 1185.8 324.4 1186.7 327.2 1187.4 330.1 1188.0 333.0 1188.5 335.0 1188.8 337.0 1189.0 339.1 1189.2 341.1 1189.4 343.2 1189.5 345.3 1189.6 347.3 1189.6 349.4 1189.6 351.5 1189.5 353.6 1189.5 355.7 1189.4 357.8 1189.2 359.9 1189.1 361.9 1188.9 364.0 1188.7 366.1 1188.5 368.1 1188.3 370.1 1188.0 372.1 1187.7 374.1 1187.4 376.1 1187.0 378.1 1186.6 381.0 1185.9 383.9 1185.1 386.7 1184.2 389.5 1183.2 392.2 1182.0 394.8 1180.8 397.4 1179.4 400.0 1177.8 402.4 1176.1 404.1 1174.9 405.6 1173.7 407.2 1172.4 408.7 1171.0 410.1 1169.6 411.5 1168.2 412.9 1166.7 414.3 1165.2 415.5 1163.7 416.8 1162.1 418.6 1159.7 420.2 1157.3 421.8 1154.7 423.2 1152.2 424.6 1149.6 425.8 1146.9 427.0 1144.2 428.1 1141.5 429.1 1138.7 430.0 1135.9 430.8 1133.1 431.6 1130.3 432.4 1127.4 433.0 1124.5 433.7 1121.6 434.3 1118.6 434.6 1116.7 435.0 1114.7 435.3 1112.7 435.6 1110.7 436.0 1108.7 436.3 1106.7 436.6 1104.8 436.9 1102.8 437.2 1100.8 437.5 1098.8 437.8 1096.8 438.1 1094.8 438.4 1092.8 438.6 1090.8 438.9 1088.8 439.2 1086.8 439.5 1084.8 439.8 1082.8 440.1 1080.8 440.3 1078.8 440.6 1076.8 440.9 1074.8 441.2 1072.8 441.4 1070.8 441.7 1068.9 442.0 1066.9 442.3 1064.9 442.5 1062.9 442.8 1060.9 443.1 1058.9 443.3 1056.9 443.6 1054.9 443.9 1052.9 444.1 1050.9 444.4 1048.9 444.6 1046.9 444.9 1044.9 445.2 1042.9 445.4 1040.9 445.7 1039.0 445.9 1037.0 446.2 1035.0 446.4 1033.0 446.7 1031.0 446.9 1029.0 447.2 1027.0 447.4 1025.0 447.7 1023.0 447.9 1021.0 448.2 1019.0 448.4 1017.0 448.7 1015.0 448.9 1013.1 449.2 1011.1 449.4 1009.1 449.6 1007.1 449.9 1005.1 450.1 1003.1 450.4 1001.1 450.6 999.1 450.8 997.1 451.1 995.1 451.3 993.1 451.5 991.1 451.8 989.2 452.0 987.2 452.3 985.2 452.5 983.2 452.7 981.2 452.9 979.2 453.2 977.2 453.4 975.2 453.6 973.2 453.9 971.2 454.1 969.3 454.3 967.3 454.6 965.3 454.8 963.3 455.0 961.3 455.3 959.3 455.5 957.3 455.7 955.3 455.9 953.3 456.2 951.4 456.4 949.4 456.6 947.4 456.8 945.4 457.1 943.4 457.3 941.4 457.5 939.4 457.7 937.4 458.0 935.5 458.2 933.5 458.4 931.5 458.8 928.5 459.1 925.5 459.4 922.5 459.8 919.6 460.1 916.6 460.5 913.6 460.8 910.6 461.1 907.6 461.5 904.7 461.8 901.7 462.2 898.7 462.5 895.7 462.8 892.8 463.2 889.8 463.5 886.8 463.9 883.8 464.2 880.8 464.5 877.9 464.9 874.9 465.2 871.9 465.6 868.9 465.9 866.0 466.3 863.0 466.6 860.0 467.0 857.1 467.3 854.1 467.7 851.1 468.0 848.1 468.4 845.2 468.8 842.2 469.1 839.2 469.5 836.3 469.9 833.3 470.2 830.3 470.6 827.3 471.0 824.4 471.3 821.4 471.7 818.4 472.1 815.5 472.5 812.5 472.8 809.5 473.2 806.6 473.6 803.6 474.0 800.6 474.4 797.7 474.8 794.7 475.2 791.8 475.6 788.8 476.0 785.8 476.4 782.9 476.8 779.9 477.2 776.9 477.6 774.0 478.0 771.0 478.4 768.1 478.8 765.1 479.3 762.1 479.7 759.2 480.1 756.2 480.5 753.3 481.0 750.3 481.4 747.4 481.9 744.4 482.3 741.4 482.8 738.5 483.2 735.5 483.7 732.6 484.1 729.6 484.6 726.7 485.1 723.7 485.5 720.8 486.0 717.8 486.5 714.9 487.0 711.9 487.5 709.0 488.0 706.0 488.5 703.1 489.0 700.1 489.5 697.2 490.0 694.2 490.5 691.3 491.0 688.3 491.5 685.4 492.1 682.4 492.6 679.5 493.1 676.5 493.7 673.6 494.2 670.7 494.8 667.7 495.3 664.8 495.9 661.8 496.5 658.9 497.0 656.0 497.6 653.0 498.2 650.1 498.8 647.1 499.4 644.2 500.0 641.3 500.6 638.3 501.2 635.4 501.8 632.5 502.3 630.5 502.7 628.5 503.1 626.6 503.5 624.6 503.9 622.7 504.4 620.7 504.8 618.8 505.2 616.8 505.7 614.9 506.1 612.9 506.6 611.0 507.0 609.0 507.4 607.0 507.9 605.1 508.4 603.1 508.8 601.2 509.3 599.2 509.7 597.3 510.2 595.3 510.7 593.4 511.1 591.4 511.6 589.5 512.1 587.5 512.6 585.6 513.0 583.6 513.5 581.7 514.0 579.7 514.5 577.8 515.0 575.8 515.5 573.9 516.0 571.9 516.5 570.0 517.0 568.1 517.5 566.1 518.0 564.2 518.6 562.2 519.1 560.3 519.6 558.3 520.1 556.4 520.7 554.4 521.2 552.5 521.7 550.5 522.3 548.6 522.8 546.7 523.4 544.7 523.9 542.8 524.5 540.8 525.0 538.9 525.6 536.9 526.1 535.0 526.7 533.1 527.3 531.1 527.8 529.2 528.4 527.2 529.0 525.3 529.6 523.4 530.2 521.4 530.8 519.5 531.4 517.5 532.0 515.6 532.6 513.7 533.2 511.7 533.8 509.8 534.4 507.9 535.1 506.0 535.7 504.0 536.3 502.1 537.0 500.2 537.6 498.3 538.3 496.4 539.0 494.5 539.6 492.6 540.3 490.7 541.0 488.8 541.7 486.9 542.4 485.0 543.1 483.1 543.8 481.2 544.6 479.4 545.3 477.5 546.0 475.6 546.8 473.8 547.6 471.9 548.3 470.1 549.1 468.2 549.9 466.4 551.1 463.6 552.3 460.9 553.6 458.2 554.9 455.5 556.1 452.8 557.5 450.1 558.8 447.5 560.2 444.8 561.6 442.2 563.0 439.6 564.5 437.0 566.0 434.5 567.5 431.9 569.1 429.4 570.6 426.9 572.2 424.5 573.9 422.0 575.6 419.6 577.3 417.2 579.0 414.8 580.8 412.4 582.6 410.1 584.5 407.8 586.4 405.5 588.3 403.3 590.2 401.1 592.2 398.9 594.3 396.7 596.4 394.6 598.5 392.5 600.6 390.4 602.8 388.4 605.1 386.3 606.6 385.0 608.1 383.7 609.6 382.4 611.2 381.2 612.7 379.9 614.3 378.7 615.9 377.4 617.5 376.2 619.1 375.0 620.8 373.8 622.4 372.7 624.1 371.5 625.7 370.4 627.4 369.3 629.1 368.2 630.8 367.1 632.5 366.1 634.3 365.1 636.0 364.0 637.8 363.0 639.5 362.1 641.3 361.1 643.1 360.2 644.9 359.3 646.7 358.4 648.5 357.5 650.3 356.6 652.2 355.8 654.0 355.0 655.8 354.2 657.7 353.4 659.6 352.6 661.4 351.9 663.3 351.2 665.2 350.5 667.1 349.8 669.0 349.2 670.9 348.6 672.8 348.0 675.7 347.1 678.6 346.3 681.5 345.6 684.4 344.9 687.3 344.2 690.2 343.6 693.2 343.0 696.1 342.4 698.1 342.1 700.0 341.7 702.0 341.4 704.0 341.1 706.0 340.8 708.0 340.5 709.9 340.2 711.9 340.0 713.9 339.7 715.9 339.5 717.9 339.3 719.9 339.0 726.9 338.3 733.9 337.7 740.9 337.1 747.9 336.5 754.9 336.1 761.8 335.7 768.8 335.3 775.8 335.0 782.8 334.8 790.8 334.6 798.8 334.4 806.8 334.4 814.8 334.4 822.8 334.4 830.8 334.5 838.8 334.7 846.8 334.9 854.8 335.1 862.8 335.5 870.7 335.8 878.7 336.2 886.7 336.6 894.7 337.1 902.7 337.6 910.7 338.1 918.6 338.7 925.6 339.2 932.6 339.7 939.6 340.2 946.6 340.7 953.6 341.3 960.5 341.8 967.5 342.4 974.5 342.9 981.5 343.5 988.5 344.0 995.4 344.6 1002.4 345.2 1009.4 345.7 1016.4 346.2 1023.4 346.8 1030.3 347.3 1037.3 347.8 1044.3 348.3 1051.3 348.8 1058.3 349.4 1065.3 349.9 1072.2 350.4 1080.2 350.9 1088.2 351.5 1096.2 352.1 1104.2 352.6 1112.1 353.2 1120.1 353.7 1128.1 354.3 1136.1 354.8 1144.1 355.4 1152.0 355.9 1160.0 356.4 1168.0 357.0 1176.0 357.5 1184.0 358.1 1191.9 358.6 1199.9 359.1 1207.9 359.7 1215.9 360.2 1223.9 360.8 1231.8 361.3 1239.8 361.9 1247.8 362.4 1255.8 363.0 1263.8 363.5 1271.7 364.1 1279.7 364.6 1287.7 365.2 1295.7 365.8 1303.7 366.3 1311.6 366.9 1319.6 367.5 1327.6 368.1 1335.6 368.6 1343.5 369.2 1351.5 369.8 1359.5 370.4 1367.5 371.0 1375.5 371.6 1383.4 372.2 1391.4 372.8 1399.4 373.4 1406.4 373.9 1413.3 374.4 1420.3 374.9 1427.3 375.5 1434.3 376.0 1441.3 376.5 1448.2 377.1 1455.2 377.6 1462.2 378.1 1469.2 378.7 1476.2 379.2 1483.2 379.7 1490.1 380.3 1497.1 380.8 1504.1 381.3 1511.1 381.9 1518.0 382.4 1525.0 382.9 1532.0 383.5 1539.0 384.0 1546.0 384.6 1552.9 385.1 1559.9 385.6 1566.9 386.2 1573.9 386.7 1580.9 387.2 1587.8 387.8 1594.8 388.3 1601.8 388.9 1608.8 389.4 1615.8 389.9 1622.7 390.5 1629.7 391.0 1636.7 391.5 1643.7 392.1 1650.7 392.6 1657.6 393.2 1664.6 393.7 1671.6 394.2 1678.6 394.8 1685.6 395.3 1692.5 395.8 1699.5 396.3 1707.5 397.0 1715.5 397.6 1723.5 398.2 1731.4 398.8 1739.4 399.4 1747.4 400.0 1755.4 400.6 1763.3 401.1 1771.3 401.7 1779.3 402.3 1787.3 402.9 1795.3 403.5 1803.2 404.1 1811.2 404.7 1819.2 405.2 1827.2 405.8 1835.1 406.4 1843.1 407.0 1851.1 407.5 1859.1 408.1 1867.1 408.7 1875.0 409.2 1883.0 409.8 1891.0 410.3 1899.0 410.9 1906.9 411.4 1914.9 412.0 1922.9 412.6 1930.9 413.1 1938.9 413.7 1946.8 414.2 1954.8 414.8 1962.8 415.3 1970.8 415.9 1978.8 416.4 1986.7 417.0 1994.7 417.5 2002.7 418.1 2010.7 418.6 2018.6 419.2 2026.6 419.8 2034.6 420.3 2042.5 420.9 2050.5 421.5 2058.5 422.0 2066.5 422.6 2074.4 423.2 2082.4 423.7 2090.4 424.3 2098.3 424.9 2106.3 425.5 2114.3 426.1 2122.3 426.7 2130.2 427.3 2138.2 427.9 2146.2 428.6 2154.1 429.2 2162.1 429.9 2170.1 430.5 2178.0 431.2 2186.0 432.0 2193.9 432.7 2201.9 433.5 2209.8 434.3 2217.8 435.1 2225.7 435.9 2233.7 436.8 2241.6 437.7 2249.6 438.7 2256.5 439.5 2263.4 440.4 2270.4 441.3 2277.3 442.2 2284.2 443.2 2291.2 444.2 2298.1 445.3 2303.6 446.1" stroke="#e35a00" stroke-width="8.4" fill="none" stroke-linecap="round" stroke-linejoin="round"/>
<path d="M277.1 1093.3L278.6 1095.8 280.0 1098.4 281.3 1101.1 282.5 1103.8 283.6 1106.6 284.7 1109.4 285.3 1111.3 286.0 1113.2 286.6 1115.1 287.2 1117.0 287.8 1119.0 288.4 1120.9 288.9 1122.9 289.5 1124.8 290.0 1126.8 290.6 1128.8 291.2 1130.7 291.7 1132.7 292.3 1134.6 292.9 1136.6 293.5 1138.5 294.1 1140.5 294.7 1142.4 295.3 1144.3 296.0 1146.2 296.7 1148.1 297.5 1149.9 298.6 1152.7 299.9 1155.4 301.2 1158.1 302.7 1160.7 304.3 1163.2 305.9 1165.7 307.1 1167.3 308.4 1168.8 309.7 1170.3 311.1 1171.8 313.2 1173.9 315.5 1175.8 317.9 1177.6 320.3 1179.1 322.9 1180.5 325.6 1181.6 328.3 1182.5 331.1 1183.2 334.0 1183.7 337.0 1184.0 340.0 1184.2 342.0 1184.2 344.0 1184.2 346.1 1184.1 348.1 1184.0 350.2 1183.9 352.3 1183.8 354.4 1183.6 356.4 1183.4 358.5 1183.3 360.6 1183.1 362.6 1182.9 364.7 1182.8 366.7 1182.7 368.8 1182.5 370.8 1182.4 372.8 1182.3 374.8 1182.2 376.8 1182.0 379.8 1181.8 382.7 1181.5 385.7 1181.1 388.6 1180.7 391.5 1180.2 394.3 1179.6 397.2 1178.9 400.0 1178.0 402.8 1177.0 405.6 1175.8 407.4 1174.9 409.2 1174.0 410.9 1173.0 412.7 1172.0 414.4 1170.9 416.0 1169.8 417.7 1168.5 419.3 1167.3 420.8 1166.0 422.3 1164.6 423.7 1163.2 425.1 1161.7 426.4 1160.2 428.2 1157.8 429.9 1155.4 431.4 1152.8 432.8 1150.2 434.1 1147.5 435.3 1144.7 436.0 1142.9 436.7 1141.0 437.4 1139.1 438.0 1137.2 438.6 1135.2 439.1 1133.3 439.7 1131.3 440.2 1129.4 440.7 1127.4 441.2 1125.5 441.7 1123.5 442.1 1121.6 442.6 1119.6 443.0 1117.7 443.5 1115.7 443.9 1113.8 444.3 1111.8 444.7 1109.8 445.1 1107.9 445.6 1104.9 446.1 1102.0 446.6 1099.0 447.1 1096.1 447.6 1093.1 448.0 1090.1 448.5 1087.2 448.9 1084.2 449.3 1081.3 449.7 1078.3 450.0 1075.3 450.4 1072.4 450.8 1069.4 451.1 1066.4 451.5 1063.4 451.8 1060.5 452.2 1057.5 452.5 1054.5 452.8 1051.6 453.2 1048.6 453.5 1045.6 453.8 1042.6 454.2 1039.7 454.5 1036.7 454.9 1033.7 455.2 1030.7 455.5 1027.7 455.9 1024.8 456.2 1021.8 456.5 1018.8 456.9 1015.8 457.2 1012.8 457.5 1009.9 457.9 1006.9 458.2 1003.9 458.5 1000.9 458.9 997.9 459.1 996.0 459.3 994.0 459.5 992.0 459.8 990.0 460.0 988.0 460.2 986.0 460.4 984.0 460.7 982.0 460.9 980.1 461.1 978.1 461.3 976.1 461.5 974.1 461.8 972.1 462.0 970.1 462.2 968.1 462.4 966.1 462.7 964.1 462.9 962.1 463.1 960.2 463.3 958.2 463.6 956.2 463.8 954.2 464.0 952.2 464.2 950.2 464.5 948.2 464.7 946.2 464.9 944.2 465.2 942.3 465.4 940.3 465.6 938.3 465.8 936.3 466.1 934.3 466.3 932.3 466.5 930.3 466.8 928.3 467.0 926.3 467.2 924.3 467.4 922.4 467.7 920.4 467.9 918.4 468.1 916.4 468.4 914.4 468.6 912.4 468.8 910.4 469.1 908.4 469.3 906.4 469.5 904.4 469.8 902.5 470.0 900.5 470.2 898.5 470.5 896.5 470.7 894.5 471.0 892.5 471.2 890.5 471.4 888.5 471.7 886.5 471.9 884.6 472.2 882.6 472.4 880.6 472.6 878.6 472.9 876.6 473.1 874.6 473.4 872.6 473.6 870.6 473.9 868.6 474.1 866.7 474.3 864.7 474.6 862.7 474.8 860.7 475.1 858.7 475.3 856.7 475.6 854.7 475.8 852.7 476.1 850.8 476.3 848.8 476.6 846.8 476.8 844.8 477.1 842.8 477.4 840.8 477.6 838.8 477.9 836.9 478.1 834.9 478.4 832.9 478.6 830.9 478.9 828.9 479.2 826.9 479.4 824.9 479.7 823.0 479.9 821.0 480.2 819.0 480.5 817.0 480.7 815.0 481.0 813.0 481.3 811.1 481.5 809.1 481.8 807.1 482.1 805.1 482.3 803.1 482.6 801.1 482.9 799.2 483.2 797.2 483.4 795.2 483.7 793.2 484.0 791.2 484.4 788.3 484.8 785.3 485.2 782.3 485.7 779.4 486.1 776.4 486.5 773.4 487.0 770.5 487.4 767.5 487.8 764.5 488.3 761.6 488.7 758.6 489.2 755.6 489.6 752.7 490.0 749.7 490.5 746.7 491.0 743.8 491.4 740.8 491.9 737.9 492.3 734.9 492.8 732.0 493.3 729.0 493.8 726.0 494.2 723.1 494.7 720.1 495.2 717.2 495.7 714.2 496.2 711.3 496.7 708.3 497.2 705.4 497.7 702.4 498.2 699.5 498.8 696.5 499.3 693.6 499.8 690.7 500.3 687.7 500.9 684.8 501.4 681.8 502.0 678.9 502.6 676.0 503.1 673.0 503.7 670.1 504.3 667.2 504.9 664.2 505.4 661.3 506.0 658.4 506.6 655.5 507.3 652.5 507.9 649.6 508.5 646.7 509.1 643.8 509.8 640.8 510.4 637.9 511.1 635.0 511.7 632.1 512.4 629.2 513.1 626.3 513.8 623.4 514.5 620.5 515.2 617.6 515.9 614.6 516.6 611.7 517.3 608.8 518.1 605.9 518.8 603.0 519.6 600.2 520.3 597.3 521.1 594.4 521.9 591.5 522.7 588.6 523.5 585.7 524.3 582.8 525.1 579.9 526.0 577.1 526.8 574.2 527.4 572.3 528.0 570.4 528.6 568.4 529.1 566.5 529.7 564.6 530.3 562.7 530.9 560.8 531.5 558.9 532.1 557.0 532.7 555.1 533.4 553.1 534.0 551.2 534.6 549.3 535.2 547.4 535.9 545.5 536.5 543.6 537.2 541.7 537.8 539.8 538.5 537.9 539.1 536.0 539.8 534.1 540.5 532.2 541.2 530.3 541.9 528.4 542.6 526.5 543.2 524.6 544.0 522.8 544.7 520.9 545.4 519.0 546.1 517.1 546.8 515.2 547.6 513.3 548.3 511.4 549.0 509.5 549.8 507.7 550.5 505.8 551.3 503.9 552.1 502.0 552.8 500.1 553.6 498.3 554.4 496.4 555.2 494.5 556.0 492.6 556.8 490.8 557.6 488.9 558.4 487.0 559.2 485.2 560.1 483.3 560.9 481.4 561.8 479.6 562.6 477.7 563.5 475.9 564.3 474.0 565.2 472.2 566.1 470.3 567.0 468.5 567.9 466.7 568.8 464.9 569.7 463.0 570.7 461.2 571.6 459.4 572.6 457.7 573.5 455.9 574.5 454.1 575.5 452.3 576.5 450.6 577.5 448.8 578.5 447.1 579.6 445.4 580.6 443.7 581.7 442.0 583.3 439.4 584.9 436.9 586.6 434.5 588.3 432.0 590.0 429.6 591.8 427.3 593.6 424.9 595.4 422.6 597.3 420.4 599.2 418.2 601.1 416.0 603.1 413.8 605.1 411.8 607.2 409.7 609.3 407.7 611.4 405.8 613.6 403.9 615.8 402.0 618.1 400.2 620.4 398.5 622.8 396.8 625.2 395.2 627.6 393.6 630.1 392.1 632.7 390.6 635.3 389.2 637.9 387.9 640.6 386.6 643.3 385.4 646.1 384.2 647.9 383.4 649.8 382.7 651.7 382.0 653.6 381.3 655.5 380.6 657.4 380.0 659.3 379.3 661.3 378.7 663.2 378.1 665.2 377.5 667.2 377.0 669.2 376.4 671.1 375.9 673.1 375.4 675.1 374.9 677.1 374.4 679.1 373.9 681.1 373.4 683.1 373.0 685.1 372.6 687.2 372.1 689.2 371.7 691.2 371.3 693.2 370.9 695.2 370.5 697.2 370.2 699.2 369.8 701.2 369.4 703.2 369.1 705.2 368.8 707.2 368.4 709.2 368.1 711.3 367.8 713.3 367.5 715.3 367.2 717.3 366.9 719.3 366.7 726.3 365.8 733.3 365.0 740.2 364.3 747.2 363.7 755.2 363.2 763.1 362.7 771.1 362.4 779.1 362.1 787.0 362.0 794.9 361.9 802.9 361.9 810.8 361.9 818.8 362.1 826.7 362.3 834.6 362.5 842.6 362.8 850.5 363.1 858.5 363.5 866.4 363.9 874.4 364.3 882.3 364.7 890.3 365.2 898.3 365.6 906.3 366.1 914.2 366.6 922.2 367.1 930.2 367.6 937.2 368.0 944.2 368.5 951.2 369.0 958.1 369.4 965.1 369.9 972.1 370.4 979.1 370.9 986.1 371.4 993.1 371.9 1000.1 372.4 1007.1 372.9 1014.1 373.4 1021.1 373.9 1028.1 374.4 1035.1 374.9 1042.1 375.3 1049.1 375.8 1056.1 376.3 1063.1 376.8 1070.1 377.3 1077.1 377.8 1084.0 378.3 1091.0 378.8 1098.0 379.2 1105.0 379.7 1112.0 380.2 1119.0 380.7 1126.0 381.2 1133.0 381.6 1139.9 382.1 1146.9 382.6 1153.9 383.0 1160.9 383.5 1168.9 384.1 1176.9 384.6 1184.8 385.1 1192.8 385.7 1200.8 386.2 1208.8 386.7 1216.8 387.3 1224.7 387.8 1232.7 388.4 1240.7 388.9 1248.7 389.4 1256.6 390.0 1264.6 390.5 1272.6 391.0 1280.6 391.6 1288.6 392.1 1296.5 392.6 1304.5 393.2 1312.5 393.7 1320.5 394.3 1328.4 394.8 1336.4 395.4 1344.4 395.9 1352.4 396.4 1360.3 397.0 1368.3 397.5 1376.3 398.1 1384.3 398.6 1392.3 399.2 1400.2 399.7 1408.2 400.3 1416.2 400.9 1424.2 401.4 1432.1 402.0 1440.1 402.5 1448.1 403.1 1456.1 403.7 1464.1 404.2 1472.0 404.8 1480.0 405.3 1488.0 405.9 1496.0 406.5 1504.0 407.0 1510.9 407.5 1517.9 408.0 1524.9 408.5 1531.9 409.0 1538.9 409.5 1545.9 410.0 1552.8 410.5 1559.8 411.0 1566.8 411.5 1573.8 412.0 1580.8 412.5 1587.8 413.0 1594.7 413.5 1601.7 414.0 1608.7 414.5 1615.7 415.0 1622.7 415.5 1629.7 416.0 1636.6 416.5 1643.6 417.0 1650.6 417.5 1657.6 418.0 1664.6 418.5 1671.6 419.0 1678.5 419.5 1685.5 420.0 1692.5 420.5 1699.5 421.0 1706.5 421.5 1713.5 422.0 1720.4 422.5 1727.4 423.0 1734.4 423.5 1741.4 424.0 1748.4 424.5 1755.4 425.0 1762.4 425.4 1769.3 425.9 1776.3 426.4 1783.3 426.9 1790.3 427.4 1797.3 427.9 1804.3 428.4 1811.2 428.9 1818.2 429.4 1825.2 429.8 1832.2 430.3 1839.2 430.8 1846.2 431.3 1853.2 431.8 1860.1 432.3 1867.1 432.7 1874.1 433.2 1881.1 433.7 1888.1 434.2 1895.1 434.6 1902.0 435.1 1909.0 435.6 1916.0 436.0 1923.0 436.5 1930.0 437.0 1936.5 437.4 1939.0 439.7 1941.5 440.3 1944.0 438.7 1946.5 438.1 1953.9 438.6 1961.9 439.1 1969.9 439.6 1977.9 440.1 1985.9 440.7 1993.8 441.2 2001.8 441.7 2009.8 442.2 2017.8 442.8 2025.7 443.3 2033.7 443.8 2041.7 444.3 2049.7 444.9 2057.6 445.4 2065.6 446.0 2073.6 446.6 2081.5 447.1 2089.5 447.7 2097.5 448.3 2105.5 448.9 2113.4 449.5 2121.4 450.2 2129.3 450.8 2137.3 451.5 2145.3 452.1 2153.2 452.8 2161.2 453.5 2169.1 454.3 2177.1 455.0 2185.1 455.8 2193.0 456.5 2201.0 457.3 2208.9 458.2 2216.9 459.0 2224.8 459.9 2232.7 460.8 2239.7 461.6 2246.6 462.4 2253.6 463.3 2260.5 464.1 2267.5 465.0 2274.4 465.9 2281.4 466.9 2288.3 467.8 2295.2 468.8 2302.2 469.8 2303.6 470.0" stroke="#000000" stroke-width="8.4" fill="none" stroke-linecap="round" stroke-linejoin="round"/>
</g>
<line x1="187.2" y1="61.5" x2="328.1" y2="61.5" stroke="#ff0000" stroke-width="12.4" stroke-linecap="round"/>
<line x1="513.4" y1="61.5" x2="656.1" y2="61.5" stroke="#0070c0" stroke-width="8.4" stroke-linecap="round"/>
<line x1="951.4" y1="61.5" x2="1093.4" y2="61.5" stroke="#00b050" stroke-width="8.4" stroke-linecap="round"/>
<line x1="1390.0" y1="61.5" x2="1532.2" y2="61.5" stroke="#e35a00" stroke-width="8.4" stroke-linecap="round"/>
<line x1="1829.5" y1="61.5" x2="1971.4" y2="61.5" stroke="#000000" stroke-width="8.4" stroke-linecap="round"/>
<text transform="translate(345.72 81.60) scale(0.8806 1)" font-size="71.8">BB</text>
<text transform="translate(671.88 81.60) scale(0.9217 1)" font-size="71.8">PCB25</text>
<text transform="translate(1109.87 81.60) scale(0.9255 1)" font-size="71.8">PCB50</text>
<text transform="translate(1548.67 81.60) scale(0.9250 1)" font-size="71.8">PCB75</text>
<text transform="translate(1987.88 81.60) scale(0.9230 1)" font-size="71.8">PCB100</text>
<text transform="translate(140.46 231.50) scale(1.0127 1)" font-size="68.0">35</text>
<text transform="translate(140.75 384.44) scale(1.0500 1)" font-size="68.0">30</text>
<text transform="translate(140.88 537.39) scale(1.0063 1)" font-size="68.0">25</text>
<text transform="translate(140.75 690.33) scale(1.0500 1)" font-size="68.0">20</text>
<text transform="translate(139.89 843.27) scale(1.0213 1)" font-size="68.0">15</text>
<text transform="translate(139.67 996.21) scale(1.0667 1)" font-size="68.0">10</text>
<text transform="translate(173.98 1149.16) scale(1.0414 1)" font-size="68.0">5</text>
<text transform="translate(173.55 1302.10) scale(1.1179 1)" font-size="68.0">0</text>
<text transform="translate(259.28 1400.30) scale(1.1071 1)" font-size="68.0">0</text>
<text transform="translate(563.27 1400.30) scale(1.0115 1)" font-size="68.0">200</text>
<text transform="translate(902.00 1400.30) scale(1.0031 1)" font-size="68.0">400</text>
<text transform="translate(1240.21 1400.30) scale(0.9948 1)" font-size="68.0">600</text>
<text transform="translate(1578.00 1400.30) scale(1.0021 1)" font-size="68.0">800</text>
<text transform="translate(1896.28 1400.30) scale(1.0234 1)" font-size="68.0">1000</text>
<text transform="translate(2234.00 1400.30) scale(1.0203 1)" font-size="68.0">1200</text>
<text transform="translate(1084.20 1520.30) scale(1.0002 1)" font-size="81.4">Test time <tspan font-size="69.4" dy="-7.6">(</tspan><tspan dy="7.6">s</tspan><tspan font-size="69.4" dy="-7.6">)</tspan></text>
<text transform="translate(98.40 899.24) rotate(-90) scale(0.9860 1)" font-size="81.4">S&#39; <tspan font-size="69.4" dy="-7.6">(</tspan><tspan dy="7.6">d</tspan>Nm<tspan font-size="69.4" dy="-7.6">)</tspan></text>
</svg></body></html>
